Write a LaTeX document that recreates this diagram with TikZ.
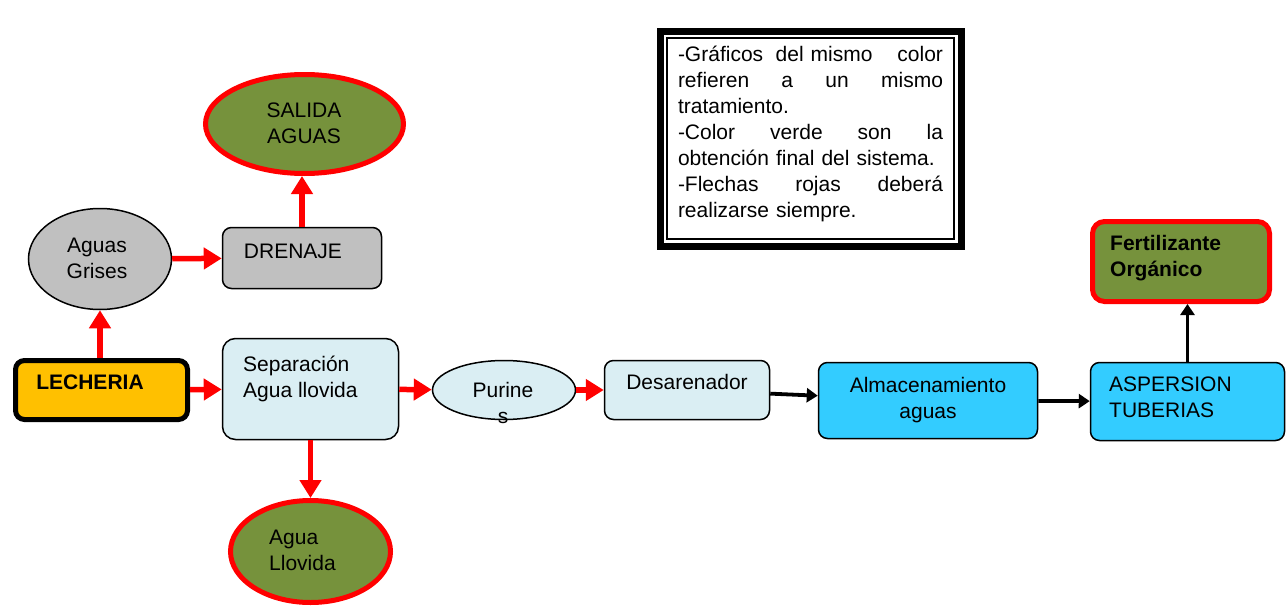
\documentclass[tikz,border=0pt]{standalone}
\usepackage{fontspec}
\setmainfont{Liberation Sans}
\usetikzlibrary{arrows.meta,shapes.geometric}
\definecolor{olivefill}{HTML}{76923C}
\definecolor{grayfill}{HTML}{C0C0C0}
\definecolor{paleblue}{HTML}{DAEEF3}
\definecolor{cyanfill}{HTML}{33CCFF}
\definecolor{amber}{HTML}{FFC000}
\begin{document}
\begin{tikzpicture}[x=1pt,y=-1pt,
  shapebox/.style={draw=black, line width=1.5pt, rounded corners=9pt, inner sep=0pt},
  shapeell/.style={ellipse, draw=black, line width=1.5pt, inner sep=0pt},
  redarrow/.style={draw=red, line width=5.5pt, -{Triangle[length=18pt,width=21pt]}},
  blackarrow/.style={draw=black, line width=3.8pt, -{Triangle[length=11pt,width=14pt]}},
  txt/.style={font=\fontsize{21}{26}\selectfont, inner sep=0pt, align=left},
  ctxt/.style={font=\fontsize{21}{26}\selectfont, inner sep=0pt, align=center}]
\useasboundingbox (0,0) rectangle (1286,613);
\fill[white] (0,0) rectangle (1286,613);

% shapes
\node[shapeell, fill=olivefill, draw=red, line width=5pt, minimum width=198pt, minimum height=99pt] (salida) at (304.5,124) {};
\node[shapeell, fill=grayfill, minimum width=143pt, minimum height=101pt] (grises) at (100,259) {};
\node[shapebox, fill=grayfill, minimum width=159pt, minimum height=61pt] (dren) at (302,258) {};
\node[shapebox, fill=amber, line width=5pt, minimum width=172pt, minimum height=59pt] (lech) at (101.5,390) {};
\node[shapebox, fill=paleblue, rounded corners=13pt, minimum width=176pt, minimum height=101pt] (sep) at (310.5,389) {};
\node[shapeell, fill=olivefill, draw=red, line width=5pt, minimum width=160pt, minimum height=102pt] (llov) at (310.5,551.5) {};
\node[shapeell, fill=paleblue, minimum width=143pt, minimum height=59pt] (pur) at (504,390) {};
\node[shapebox, fill=paleblue, minimum width=165pt, minimum height=59pt] (desar) at (687,390) {};
\node[shapebox, fill=cyanfill, minimum width=219pt, minimum height=76pt] (almac) at (928,400.5) {};
\node[shapebox, fill=cyanfill, minimum width=194pt, minimum height=78pt] (asp) at (1187.5,401.5) {};
\node[shapebox, fill=olivefill, draw=red, line width=5pt, rounded corners=12pt, minimum width=177pt, minimum height=80pt] (fert) at (1181,261.5) {};

% texts
\node[ctxt] (salidat) at (304,123) {SALIDA\\AGUAS};
\node[ctxt] (grisest) at (97,258) {Aguas\\Grises};
\node[ctxt] (drent) at (293,251) {DRENAJE};
\node[ctxt, font=\fontsize{21}{26}\selectfont\bfseries] (lecht) at (90,382) {LECHERIA};
\node[txt, anchor=west] (sept) at (243,378.5) {Separación\\Agua llovida};
\node[txt, anchor=west] (llovt) at (269,550) {Agua\\Llovida};
\node[ctxt] (purt) at (503,403) {Purine\\s};
\node[ctxt] (desart) at (687,382) {Desarenador};
\node[ctxt] (almact) at (928,400) {Almacenamiento\\aguas};
\node[txt, anchor=west] (aspt) at (1109,397.5) {ASPERSION\\TUBERIAS};
\node[txt, anchor=west, font=\fontsize{21}{26}\selectfont\bfseries] (fertt) at (1110,258) {Fertilizante\\Orgánico};

% legend
\draw[line width=7pt] (660.5,31.5) rectangle (961.5,246.5);
\draw[line width=1.5pt] (667,38) rectangle (954,239);
\node[txt, font=\fontsize{21}{26}\selectfont, text width=265pt] (legend) at (810.5,134) {%
\makebox[\linewidth]{-Gráficos\hfill del mismo\hfill\hfill color}\\
\makebox[\linewidth]{refieren\hfill a\hfill un\hfill mismo}\\
tratamiento.\\
\makebox[\linewidth]{-Color\hfill verde\hfill son\hfill la}\\
\makebox[\linewidth]{obtención final del sistema.\hfill}\\
\makebox[\linewidth]{-Flechas\hfill rojas\hfill deberá}\\
realizarse siempre.};

% connectors
\draw[redarrow] (grises) -- (dren);
\draw[redarrow] (dren.north) -- (dren.north |- salida.south);
\draw[redarrow] (grises.south |- lech.north) -- (grises.south);
\draw[redarrow] (lech) -- (sep);
\draw[redarrow] (sep) -- (llov);
\draw[redarrow] (sep) -- (pur);
\draw[redarrow] (pur) -- (desar);
\draw[blackarrow] (desar) -- (almac);
\draw[blackarrow] (almac) -- (asp);
\draw[blackarrow] (asp.north) -- (asp.north |- fert.south);
\end{tikzpicture}
\end{document}
